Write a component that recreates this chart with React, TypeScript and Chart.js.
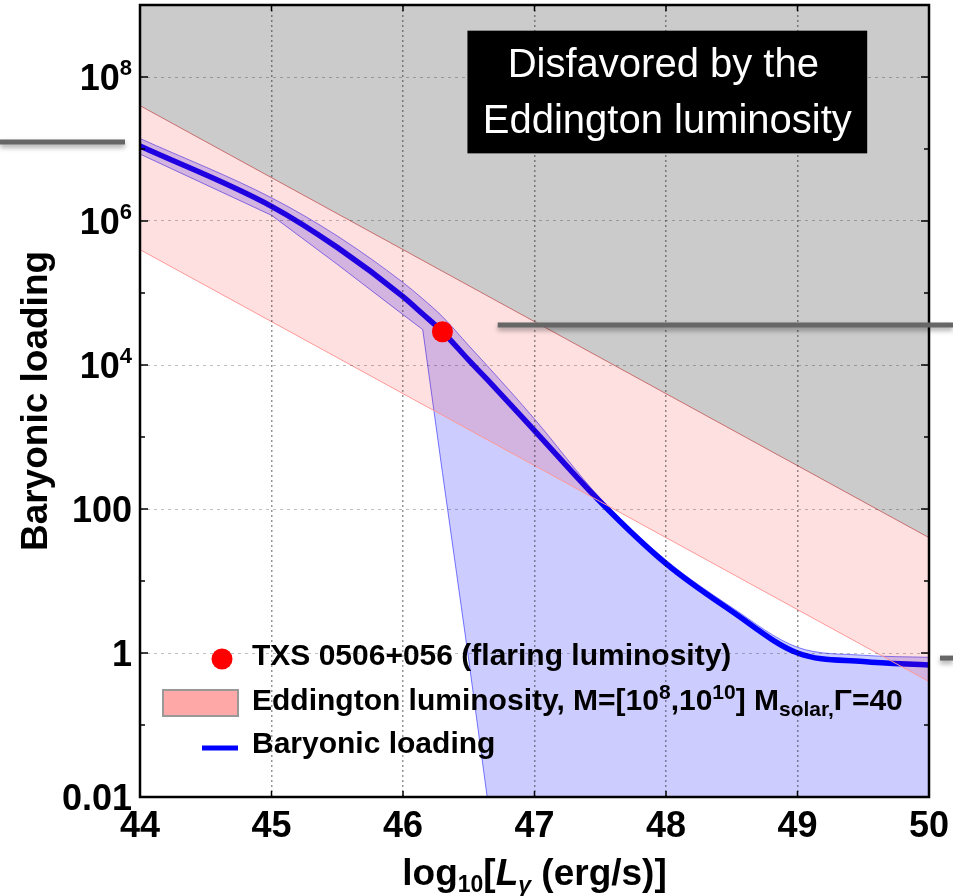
import React, { useEffect, useRef } from 'react';
import { Chart, registerables } from 'chart.js';

Chart.register(...registerables);

// ---------- data ----------
const xGrid = [44, 45, 45.5, 46, 46.15, 46.3, 46.5, 46.64, 47, 47.5, 48, 48.5, 49, 49.5, 50];
const baryonicLoading = [1.1e7, 1.6e6, 4.3e5, 8.9e4, 5.1e4, 2.9e4, 1.17e4, 6.3e3, 1.23e3, 126, 17.4, 3.8, 1.0, 0.76, 0.68];
const bandUpper = [1.4e7, 2.1e6, 6.2e5, 1.4e5, 8.3e4, 4.7e4, 1.86e4, 9.8e3, 1.78e3, 141, 19.5, 4.3, 1.2, 0.93, 0.87];
const bandLower = [8.5e6, 1.2e6, 2.5e5, 5.0e4, 3.1e4, 320, 0.8, 0.01, 1e-4, 1e-4, 1e-4, 1e-4, 1e-4, 1e-4, 1e-4];

const eddX = [44, 50];
const eddUpper = [4.0e7, 40];
const eddLower = [4.0e5, 0.4];

const txsX = [46.3];
const txsY = [2.9e4];

const xTicks = [44, 45, 46, 47, 48, 49, 50];
const yTickValues = [0.01, 1, 100, 1e4, 1e6, 1e8];
const yTickLabels = ['0.01', '1', '100', '10^4', '10^6', '10^8'];
const yMinorTicks = [0.1, 10, 1e3, 1e5, 1e7];

const guideLevels = [1.25e7, 3.6e4, 0.85];

const FONT = "'Liberation Sans', Arial, Helvetica, sans-serif";

const pts = (xs: number[], ys: number[]) => xs.map((x, i) => ({ x, y: ys[i] }));

type Seg = { t: string; sup?: boolean; sub?: boolean; italic?: boolean };

function drawRich(
  ctx: CanvasRenderingContext2D,
  segs: Seg[],
  x: number,
  y: number,
  size: number,
  bold: boolean,
  align: 'left' | 'center' | 'right',
  color: string,
  supScale = 0.64,
  supRise = 0.4
) {
  const fontFor = (s: Seg) => {
    const sz = s.sup || s.sub ? Math.round(size * supScale) : size;
    return `${s.italic ? 'italic ' : ''}${bold ? 'bold ' : ''}${sz}px ${FONT}`;
  };
  let total = 0;
  for (const s of segs) {
    ctx.font = fontFor(s);
    total += ctx.measureText(s.t).width;
  }
  let cx = align === 'center' ? x - total / 2 : align === 'right' ? x - total : x;
  ctx.fillStyle = color;
  ctx.textAlign = 'left';
  ctx.textBaseline = 'alphabetic';
  for (const s of segs) {
    ctx.font = fontFor(s);
    const dy = s.sup ? -size * supRise : s.sub ? size * 0.2 : 0;
    ctx.fillText(s.t, cx, y + dy);
    cx += ctx.measureText(s.t).width;
  }
}

const labelSegs = (lab: string): Seg[] => {
  const i = lab.indexOf('^');
  if (i < 0) return [{ t: lab }];
  return [{ t: lab.slice(0, i) }, { t: lab.slice(i + 1), sup: true }];
};

const decorPlugin = {
  id: 'decor',
  afterDraw(chart: any) {
    const ctx: CanvasRenderingContext2D = chart.ctx;
    const a = chart.chartArea;
    const xs = chart.scales.x;
    const ys = chart.scales.y;
    const W = chart.width;
    ctx.save();

    const seg = (x1: number, y1: number, x2: number, y2: number) => {
      ctx.beginPath();
      ctx.moveTo(x1, y1);
      ctx.lineTo(x2, y2);
      ctx.stroke();
    };

    // inward tick marks
    ctx.strokeStyle = '#000';
    ctx.lineWidth = 1.5;
    for (const v of yTickValues) {
      const y = ys.getPixelForValue(v);
      seg(a.left, y, a.left + 8, y);
      seg(a.right - 8, y, a.right, y);
    }
    for (const v of yMinorTicks) {
      const y = ys.getPixelForValue(v);
      seg(a.left, y, a.left + 5, y);
      seg(a.right - 5, y, a.right, y);
    }
    for (const v of xTicks) {
      const x = xs.getPixelForValue(v);
      seg(x, a.bottom, x, a.bottom - 6);
      seg(x, a.top, x, a.top + 6);
    }

    // frame
    ctx.lineWidth = 2.5;
    ctx.strokeRect(a.left, a.top, a.right - a.left, a.bottom - a.top);

    // y tick labels (with superscript exponents)
    yTickValues.forEach((v, i) => {
      const y = ys.getPixelForValue(v);
      drawRich(ctx, labelSegs(yTickLabels[i]), a.left - 8, y + 13, 36, true, 'right', '#000', 0.62, 0.42);
    });

    // annotation box
    const bx0 = xs.getPixelForValue(46.49);
    const bx1 = xs.getPixelForValue(49.53);
    const by0 = ys.getPixelForValue(4.4e8);
    const by1 = ys.getPixelForValue(8.7e6);
    ctx.fillStyle = '#000';
    ctx.fillRect(bx0, by0, bx1 - bx0, by1 - by0);
    ctx.fillStyle = '#fff';
    ctx.font = `40px ${FONT}`;
    ctx.textAlign = 'center';
    ctx.textBaseline = 'alphabetic';
    const bcx = (bx0 + bx1) / 2;
    ctx.fillText('Disfavored by the', bcx - 4, by0 + 46);
    ctx.fillText('Eddington luminosity', bcx, by0 + 102);

    // legend
    const lx = a.left;
    const lb = a.bottom;
    ctx.fillStyle = '#ff0000';
    ctx.beginPath();
    ctx.arc(lx + 82, lb - 138, 10.5, 0, Math.PI * 2);
    ctx.fill();
    drawRich(ctx, [{ t: 'TXS 0506+056 (flaring luminosity)' }], lx + 112, lb - 132, 30, true, 'left', '#000');

    ctx.fillStyle = 'rgb(255,168,168)';
    ctx.fillRect(lx + 23, lb - 107, 75, 26);
    ctx.strokeStyle = '#999';
    ctx.lineWidth = 2;
    ctx.strokeRect(lx + 23, lb - 107, 75, 26);
    drawRich(ctx, [
      { t: 'Eddington luminosity, M=[10' },
      { t: '8', sup: true },
      { t: ',10' },
      { t: '10', sup: true },
      { t: '] M' },
      { t: 'solar,', sub: true },
      { t: 'Γ=40' },
    ], lx + 112, lb - 87, 30, true, 'left', '#000', 0.7, 0.38);

    ctx.strokeStyle = '#0000ff';
    ctx.lineWidth = 5;
    seg(lx + 62, lb - 49, lx + 98, lb - 49);
    drawRich(ctx, [{ t: 'Baryonic loading' }], lx + 112, lb - 44, 30, true, 'left', '#000');

    // x-axis title
    drawRich(ctx, [
      { t: 'log' },
      { t: '10', sub: true },
      { t: '[' },
      { t: 'L', italic: true },
      { t: 'γ', sub: true, italic: true },
      { t: ' (erg/s)]' },
    ], (a.left + a.right) / 2, 885, 37, true, 'center', '#000', 0.62);

    // y-axis title
    ctx.save();
    ctx.translate(47, (250 + 552) / 2);
    ctx.rotate(-Math.PI / 2);
    drawRich(ctx, [{ t: 'Baryonic loading' }], 0, 0, 37, true, 'center', '#000');
    ctx.restore();

    // grey leader bars (slide decorations)
    ctx.save();
    ctx.strokeStyle = '#666';
    ctx.lineWidth = 5;
    ctx.shadowColor = 'rgba(0,0,0,0.35)';
    ctx.shadowBlur = 5;
    ctx.shadowOffsetY = 3;
    const g0 = ys.getPixelForValue(guideLevels[0]);
    seg(0, g0, a.left - 15, g0);
    const g1 = ys.getPixelForValue(guideLevels[1]);
    seg(xs.getPixelForValue(46.72), g1, W, g1);
    const g2 = ys.getPixelForValue(guideLevels[2]);
    seg(a.right + 11, g2, W, g2);
    ctx.restore();

    ctx.restore();
  },
};

export default function App() {
  const ref = useRef<HTMLCanvasElement>(null);

  useEffect(() => {
    if (!ref.current) return;
    Chart.defaults.font.family = FONT;
    const chart = new Chart(ref.current, {
      type: 'line',
      data: {
        datasets: [
          {
            label: 'TXS 0506+056 (flaring luminosity)',
            data: pts(txsX, txsY),
            showLine: false,
            pointRadius: 10.5,
            pointBackgroundColor: '#ff0000',
            pointBorderWidth: 0,
            order: 0,
          },
          {
            label: 'Eddington upper',
            data: pts(eddX, eddUpper),
            borderColor: 'rgb(200,110,110)',
            borderWidth: 1,
            backgroundColor: 'rgba(255,0,0,0.12)',
            fill: '+1',
            pointRadius: 0,
            order: 2,
          },
          {
            label: 'Eddington lower',
            data: pts(eddX, eddLower),
            borderColor: 'rgb(255,165,165)',
            borderWidth: 1,
            fill: false,
            pointRadius: 0,
            order: 3,
          },
          {
            label: 'Baryonic loading',
            data: pts(xGrid, baryonicLoading),
            borderColor: '#0000ff',
            borderWidth: 5.5,
            cubicInterpolationMode: 'monotone',
            fill: false,
            pointRadius: 0,
            order: 5,
          },
          {
            label: 'band upper',
            data: pts(xGrid, bandUpper),
            borderColor: 'rgba(70,70,255,0.7)',
            borderWidth: 1,
            backgroundColor: 'rgba(0,0,255,0.2)',
            cubicInterpolationMode: 'monotone',
            fill: '+1',
            pointRadius: 0,
            order: 7,
          },
          {
            label: 'band lower',
            data: pts(xGrid, bandLower),
            borderColor: 'rgba(70,70,255,0.7)',
            borderWidth: 1,
            tension: 0,
            fill: false,
            pointRadius: 0,
            order: 8,
          },
          {
            label: 'Disfavored',
            data: pts(eddX, eddUpper),
            borderWidth: 0,
            borderColor: 'rgba(0,0,0,0)',
            backgroundColor: '#cbcbcb',
            fill: 'end',
            pointRadius: 0,
            order: 10,
          },
        ],
      },
      options: {
        animation: false,
        responsive: false,
        devicePixelRatio: 1,
        layout: { autoPadding: false, padding: { top: 5, right: 24, left: 0, bottom: 0 } },
        plugins: {
          legend: { display: false },
          tooltip: { enabled: false },
        },
        scales: {
          x: {
            type: 'linear',
            min: 44,
            max: 50,
            afterBuildTicks: (s: any) => {
              s.ticks = xTicks.map((v) => ({ value: v }));
            },
            afterFit: (s: any) => {
              s.height = 99;
              s.paddingLeft = 0;
              s.paddingRight = 0;
            },
            ticks: {
              font: { size: 36, weight: 'bold', family: FONT },
              color: '#000',
              padding: 8,
              maxRotation: 0,
              callback: (v: any) => String(v),
            },
            grid: {
              color: 'rgba(0,0,0,0.42)',
              lineWidth: 1.5,
              drawTicks: false,
              z: 1,
            },
            border: { display: false, dash: [2, 3] },
          },
          y: {
            type: 'logarithmic',
            min: 0.01,
            max: 1e9,
            afterBuildTicks: (s: any) => {
              s.ticks = yTickValues.map((v) => ({ value: v }));
            },
            afterFit: (s: any) => {
              s.width = 140;
              s.paddingTop = 0;
              s.paddingBottom = 0;
            },
            ticks: {
              display: false,
            },
            grid: {
              color: 'rgba(0,0,0,0.25)',
              lineWidth: 1,
              drawTicks: false,
              z: 1,
            },
            border: { display: false, dash: [3, 4] },
          },
        },
      },
      plugins: [decorPlugin],
    } as any);
    return () => chart.destroy();
  }, []);

  return (
    <div style={{ position: 'absolute', left: 0, top: 0, width: 953, height: 896, background: '#fff' }}>
      <canvas ref={ref} width={953} height={896} style={{ display: 'block', width: 953, height: 896 }} />
    </div>
  );
}
